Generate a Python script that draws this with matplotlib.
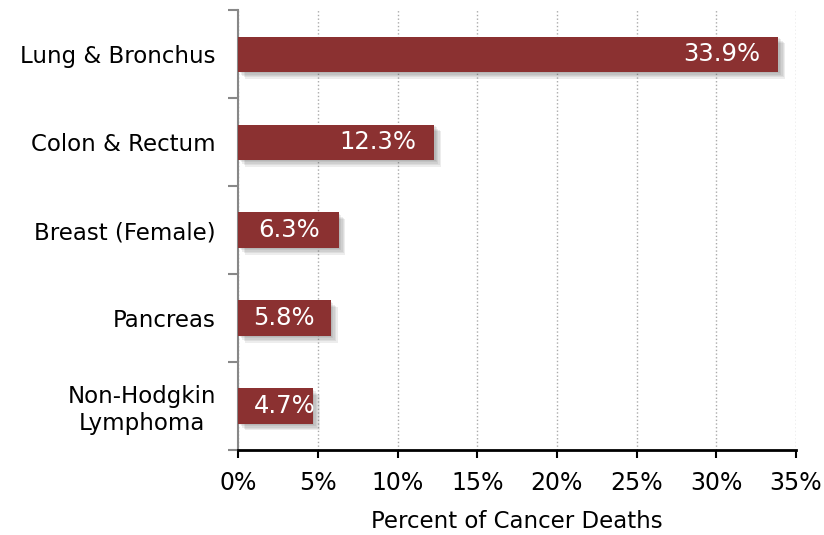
import matplotlib.pyplot as plt
import matplotlib.patheffects as pe
import numpy as np

sites = ['Lung & Bronchus', 'Colon & Rectum', 'Breast (Female)', 'Pancreas', 'Non-Hodgkin\nLymphoma']
percent = [33.9, 12.3, 6.3, 5.8, 4.7]
xticks = [0, 5, 10, 15, 20, 25, 30, 35]

fig = plt.figure(figsize=(8.24, 5.35), dpi=100)
ax = fig.add_axes([0.289, 0.159, 0.677, 0.822])

y = np.arange(len(sites))
bars = ax.barh(y, percent, height=0.4, color='#8B3131', zorder=3)
# soft drop shadow
shadow = [pe.SimplePatchShadow(offset=(d, -d), shadow_rgbFace='#555555', alpha=0.10) for d in (1, 2, 3, 4, 5)]
for b in bars:
    b.set_path_effects(shadow + [pe.Normal()])

ax.set_xlim(0, 35)
ax.set_ylim(len(sites) - 0.5, -0.5)

# value labels: right aligned inside the bar, but never closer than ~15px to the axis
renderer = fig.canvas.get_renderer()
x0 = ax.transData.transform((0, 0))[0]
for yi, v in zip(y, percent):
    t = ax.annotate(f'{v}%', (v, yi), xytext=(-13, 0), textcoords='offset points',
                    ha='right', va='center', color='white', fontsize=17.5, zorder=4)
    ext = t.get_window_extent(renderer)
    if ext.x0 < x0 + 15:
        t.xy = (0, yi)
        t.set_position((11, 0))
        t.set_ha('left')

ax.set_xticks(xticks)
ax.set_xticklabels([f'{t}%' for t in xticks], fontsize=17)
ax.tick_params(axis='x', length=6, width=1.5, pad=9)
ax.set_yticks(np.arange(-0.5, len(sites), 1))
ax.set_yticklabels([])
ax.set_yticks(y, minor=True)
ax.set_yticklabels(sites, minor=True, fontsize=16.5, ha='right', multialignment='center')
ax.tick_params(axis='y', which='major', length=7, color='#888888', width=1.5)
ax.tick_params(axis='y', which='minor', length=0, pad=16)

ax.grid(axis='x', linestyle=':', color='#aaaaaa', linewidth=1, zorder=0)
for s in ['top', 'right']:
    ax.spines[s].set_visible(False)
ax.spines['left'].set_color('#888888')
ax.spines['left'].set_linewidth(1.5)
ax.spines['bottom'].set_linewidth(2)
ax.set_xlabel('Percent of Cancer Deaths', fontsize=16.5, labelpad=11)

fig.savefig('out.png')
